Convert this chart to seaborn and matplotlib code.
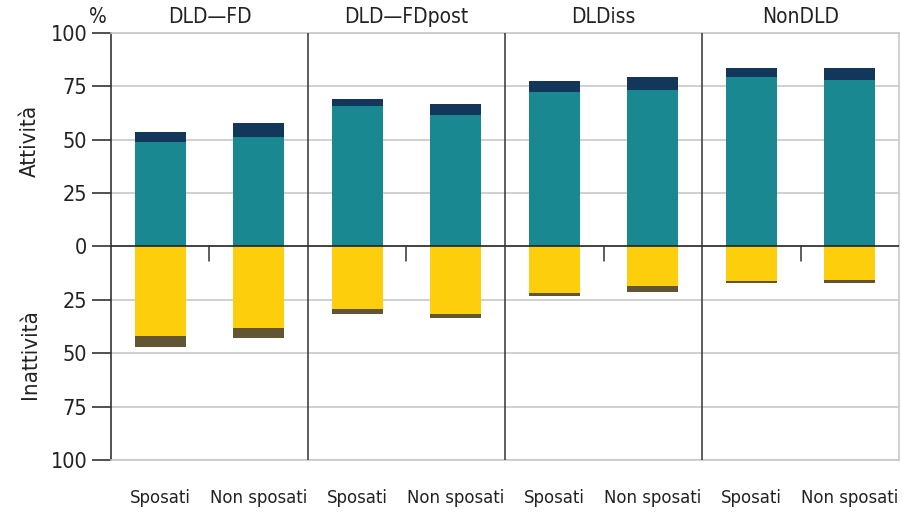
import pandas as pd
import matplotlib
matplotlib.use("Agg")
import matplotlib.pyplot as plt
from matplotlib import font_manager
import seaborn as sns

groups = ["DLD—FD", "DLD—FDpost", "DLDiss", "NonDLD"]
status = ["Sposati", "Non sposati"]

# attivita' (positive side)
occupati = [49.1, 51.4, 65.6, 61.7, 72.5, 73.3, 79.4, 78.1]
disoccupati = [4.7, 6.6, 3.6, 5.1, 5.2, 6.1, 4.4, 5.7]
# inattivita' (negative side)
inattivi_a = [41.9, 38.1, 29.2, 31.4, 21.6, 18.4, 16.1, 15.5]
inattivi_b = [5.1, 4.7, 2.2, 2.3, 1.7, 2.8, 0.8, 1.4]

yticks = [-100, -75, -50, -25, 0, 25, 50, 75, 100]

col_occ = "#1a8891"
col_dis = "#13375a"
col_ina = "#fcce0c"
col_inb = "#625534"

sns.set_theme(style="white")

# look for a condensed face, otherwise fall back to Roboto
narrow = None
for f in font_manager.fontManager.ttflist:
    name = f.name.lower()
    if ("narrow" in name or "condensed" in name or str(f.stretch).endswith("condensed")) \
            and f.style == "normal" and f.weight in (400, "normal", "regular"):
        narrow = f.fname
        break

if narrow:
    fp = font_manager.FontProperties(fname=narrow)
    big, mid, small = 15.5, 15, 13.2
else:
    fp = font_manager.FontProperties(family=["Roboto", "DejaVu Sans"])
    big, mid, small = 14, 13, 12
plt.rcParams["font.family"] = ["Roboto", "DejaVu Sans"]

keys = [f"{g}|{s}" for g in groups for s in status]
df = pd.DataFrame({
    "key": keys,
    "occ": occupati,
    "att_tot": [a + b for a, b in zip(occupati, disoccupati)],
    "ina": [-v for v in inattivi_a],
    "ina_tot": [-(a + b) for a, b in zip(inattivi_a, inattivi_b)],
})

fig = plt.figure(figsize=(9.03, 5.13), dpi=100)
ax = fig.add_axes([0.1229, 0.1033, 0.8727, 0.8324])

for col, c in [("att_tot", col_dis), ("occ", col_occ), ("ina_tot", col_inb), ("ina", col_ina)]:
    sns.barplot(data=df, x="key", y=col, order=keys, color=c, width=0.52,
                saturation=1, linewidth=0, ax=ax)

ax.set_xlim(-0.5, 7.5)
ax.set_ylim(-100, 100)
ax.set_yticks(yticks)
ax.set_yticklabels([str(abs(t)) for t in yticks])
for lab in ax.get_yticklabels():
    lab.set_fontproperties(fp)
    lab.set_fontsize(big)
    lab.set_color("#222222")
ax.set_xlabel("")
ax.set_ylabel("")

for t in yticks:
    if t != 0:
        ax.axhline(t, color="#c8c8c8", lw=1.2, zorder=0)
ax.axhline(0, color="#222222", lw=1.2, zorder=3)

# separators between groups
for x in [1.5, 3.5, 5.5]:
    ax.axvline(x, color="#333333", lw=1.1, zorder=3)
# small ticks between categories within a group
for x in [0.5, 2.5, 4.5, 6.5]:
    ax.plot([x, x], [0, -7], color="#333333", lw=1.1, zorder=3, clip_on=False)

for side in ["top", "right", "bottom"]:
    ax.spines[side].set_color("#c8c8c8")
    ax.spines[side].set_linewidth(1.2)
ax.spines["left"].set_color("#333333")
ax.spines["left"].set_linewidth(1.2)

ax.tick_params(axis="y", length=14, width=1.2, color="#333333", pad=3, left=True)
ax.tick_params(axis="x", length=0, pad=21)
ax.set_xticks(range(8))
ax.set_xticklabels(status * 4)
for lab in ax.get_xticklabels():
    lab.set_fontproperties(fp)
    lab.set_fontsize(small)
    lab.set_color("#222222")

for i, g in enumerate(groups):
    ax.text(2 * i + 0.5, 103, g, ha="center", va="bottom", fontproperties=fp,
            fontsize=mid, color="#222222")
ax.text(-0.63, 103, "%", ha="center", va="bottom", fontproperties=fp,
        fontsize=mid, color="#222222")

fig.text(0.033, 0.725, "Attività", rotation=90, ha="center", va="center",
         fontproperties=fp, fontsize=16, color="#222222")
fig.text(0.033, 0.31, "Inattività", rotation=90, ha="center", va="center",
         fontproperties=fp, fontsize=16, color="#222222")

fig.savefig("out.png", dpi=100)
